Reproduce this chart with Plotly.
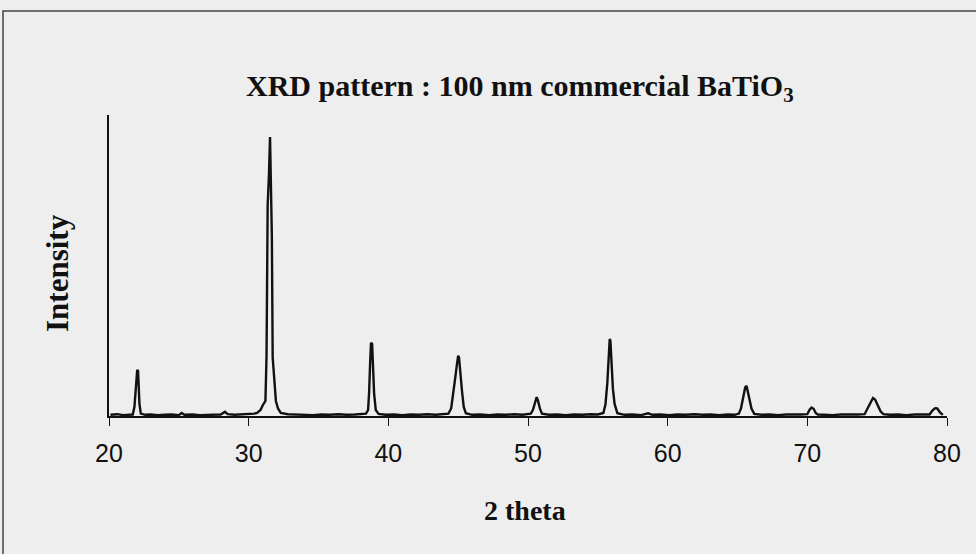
import plotly.graph_objects as go

# ---- data ----
two_theta = [
    20.1, 20.6, 21.0, 21.4, 21.7,
    21.82, 21.9, 21.97, 22.02, 22.08, 22.12, 22.18, 22.28,
    22.6, 23.0, 23.5, 24.0, 24.5, 25.0, 25.2, 25.4, 26.0, 26.5, 27.0, 27.5, 28.0, 28.3, 28.5,
    29.0, 29.5, 30.0, 30.4,
    30.6, 30.85, 31.0, 31.2, 31.28, 31.36, 31.45, 31.53, 31.6, 31.66, 31.72, 31.82, 31.95, 32.1, 32.3,
    32.8, 33.5, 34.0, 34.6, 35.2, 35.8, 36.4, 37.0, 37.6, 38.1,
    38.4, 38.55, 38.62, 38.7, 38.76, 38.84, 38.9, 38.98, 39.1, 39.3,
    39.8, 40.4, 41.0, 41.6, 42.2, 42.8, 43.4, 43.9,
    44.3, 44.5, 44.65, 44.8, 44.92, 45.0, 45.06, 45.15, 45.28, 45.4, 45.55,
    46.0, 46.6, 47.2, 47.8, 48.4, 49.0, 49.6, 50.0,
    50.2, 50.35, 50.5, 50.62, 50.72, 50.85, 51.0,
    51.5, 52.1, 52.7, 53.3, 53.9, 54.5, 55.0,
    55.4, 55.55, 55.68, 55.78, 55.85, 55.9, 55.97, 56.08, 56.2, 56.4,
    56.9, 57.5, 58.1, 58.6, 58.9, 59.5, 60.1, 60.7, 61.3, 61.9, 62.5, 63.1, 63.7, 64.3, 64.8,
    65.1, 65.25, 65.4, 65.55, 65.65, 65.75, 65.85, 66.0, 66.2,
    66.7, 67.3, 67.9, 68.5, 69.0, 69.5,
    70.0, 70.15, 70.3, 70.45, 70.6, 70.75,
    71.2, 71.8, 72.4, 73.0, 73.6,
    74.1, 74.3, 74.5, 74.7, 74.85, 75.05, 75.25, 75.45,
    75.9, 76.5, 77.1, 77.7, 78.3,
    78.75, 78.95, 79.15, 79.3, 79.5, 79.7,
]
intensity = [
    4, 6, 3, 5, 5,
    30, 85, 120, 153, 150, 90, 40, 8,
    4, 5, 3, 4, 5, 3, 10, 4, 5, 3, 4, 6, 5, 14, 6,
    4, 5, 6, 8,
    10, 20, 35, 50, 200, 700, 800, 927, 750, 600, 194, 120, 50, 25, 10,
    6, 4, 5, 3, 5, 4, 6, 4, 5, 6,
    8, 20, 75, 180, 243, 240, 170, 75, 20, 7,
    4, 5, 3, 5, 4, 6, 4, 5,
    8, 25, 70, 130, 175, 200, 195, 140, 80, 30, 9,
    4, 5, 3, 5, 4, 6, 4, 6,
    8, 20, 45, 63, 50, 25, 8,
    4, 5, 3, 5, 4, 6, 5,
    10, 40, 110, 180, 256, 250, 170, 90, 40, 9,
    4, 5, 3, 9, 4, 5, 3, 5, 4, 6, 4, 5, 3, 5, 4,
    8, 25, 60, 95, 100, 80, 50, 25, 7,
    4, 5, 3, 5, 4, 5,
    6, 20, 28, 24, 10, 5,
    4, 3, 5, 4, 5,
    6, 25, 45, 60, 55, 35, 15, 6,
    4, 5, 3, 5, 4,
    5, 18, 26, 25, 12, 4,
]
tick_values = [20, 30, 40, 50, 60, 70, 80]
tick_labels = ["20", "30", "40", "50", "60", "70", "80"]

title_text = "<b>XRD pattern : 100 nm commercial BaTiO<sub>3</sub></b>"
x_title = "<b>2 theta</b>"
y_title = "<b>Intensity</b>"

bg = "#eeeeee"
ink = "#111111"

fig = go.Figure()
fig.add_trace(go.Scatter(
    x=two_theta, y=intensity, mode="lines",
    line=dict(color=ink, width=2.4), hoverinfo="skip", showlegend=False,
))

fig.update_layout(
    width=976, height=554,
    margin=dict(l=109, r=29, t=115, b=138),
    paper_bgcolor=bg, plot_bgcolor=bg,
    showlegend=False,
    xaxis=dict(
        range=[20, 80], tickvals=tick_values, ticktext=tick_labels,
        showgrid=False, zeroline=False,
        showline=True, linecolor=ink, linewidth=1.5,
        ticks="outside", ticklen=8, tickwidth=1.2, tickcolor=ink,
        tickfont=dict(family="Liberation Sans", size=25, color=ink),
        ticklabelstandoff=6,
    ),
    yaxis=dict(
        range=[0, 1000], showticklabels=False, ticks="",
        showgrid=False, zeroline=False,
        showline=True, linecolor=ink, linewidth=1.5,
    ),
    annotations=[
        dict(text=title_text, xref="paper", yref="paper", x=0.49, y=(416 - 88) / 301,
             xanchor="center", yanchor="middle", showarrow=False,
             font=dict(family="Liberation Serif", size=30, color=ink)),
        dict(text=x_title, xref="paper", yref="paper", x=(525 - 109) / 838, y=(416 - 510) / 301,
             xanchor="center", yanchor="middle", showarrow=False,
             font=dict(family="Liberation Serif", size=28, color=ink)),
        dict(text=y_title, xref="paper", yref="paper", x=(57 - 109) / 838, y=(416 - 273) / 301,
             xanchor="center", yanchor="middle", showarrow=False, textangle=-90,
             font=dict(family="Liberation Serif", size=31, color=ink)),
    ],
    shapes=[
        dict(type="rect", xref="paper", yref="paper",
             x0=(3 - 109) / 838, x1=(990 - 109) / 838,
             y0=(416 - 570) / 301, y1=(416 - 11) / 301,
             line=dict(color="#444444", width=1.5), fillcolor="rgba(0,0,0,0)", layer="below"),
    ],
)

fig.write_html(
    "out.html",
    config={"displayModeBar": False},
    post_script="document.body.style.margin='0';document.body.style.background='#eeeeee';",
)
